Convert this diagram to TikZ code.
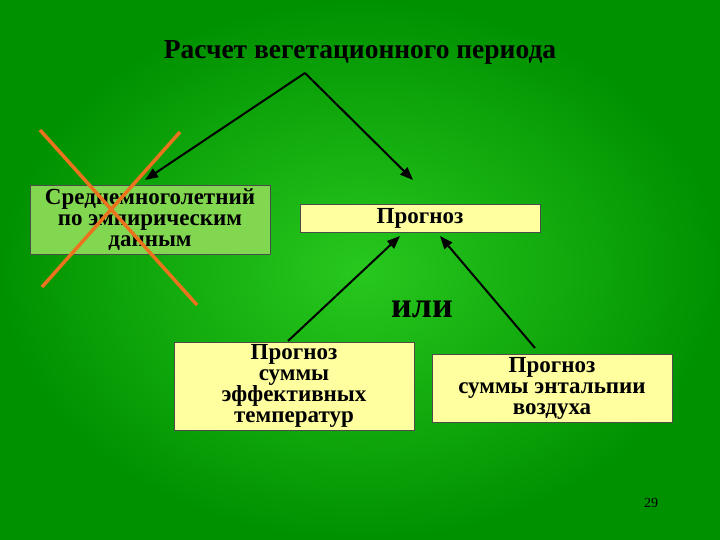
\documentclass[tikz,border=0pt]{standalone}
\usepackage{fontspec}
\setmainfont{Liberation Serif}
\usetikzlibrary{arrows.meta}
\definecolor{bgin}{RGB}{40,200,30}
\definecolor{bgout}{RGB}{0,145,0}
\definecolor{boxy}{RGB}{255,255,160}
\definecolor{boxg}{RGB}{130,215,80}
\definecolor{crossc}{RGB}{235,115,30}
\tikzset{
  box/.style={draw=black!70, line width=0.8pt, minimum width=240pt, align=center, inner sep=1pt,
    font=\bfseries\fontsize{23}{21}\selectfont},
  conn/.style={line width=2pt, -{Triangle[length=13pt,width=10pt]}},
  crossl/.style={draw=crossc, line width=3.5pt}
}
\begin{document}
\begin{tikzpicture}[x=1pt,y=-1pt]
\useasboundingbox (0,0) rectangle (720,540);
\shade[inner color=bgin, outer color=bgout] (0,0) rectangle (720,540);
\node[font=\bfseries\fontsize{27.5}{27.5}\selectfont] (title) at (360,52) {Расчет вегетационного периода};
\coordinate (apex) at (305,73);
\node[box, fill=boxg, minimum height=69pt] (avg) at (150,219.5) {Среднемноголетний\\по эмпирическим\\данным};
\node[box, fill=boxy, minimum height=28pt] (prog) at (420,218) {Прогноз};
\node[box, fill=boxy, minimum height=88pt] (eff) at (294,386) {Прогноз\\суммы\\эффективных\\температур};
\node[box, fill=boxy, minimum height=68pt] (ent) at (552,388) {Прогноз\\суммы энтальпии\\воздуха};
\node[font=\bfseries\fontsize{36}{36}\selectfont] (ili) at (422,309) {или};
\node[font=\fontsize{14}{14}\selectfont] (num) at (651,503) {29};
\coordinate (a1) at (145,180);
\coordinate (a2) at (413,180);
\draw[conn] (apex) -- (a1);
\draw[conn] (apex) -- (a2);
\coordinate (e1) at (288,341);
\coordinate (e2) at (400,236);
\coordinate (n1) at (535,348);
\coordinate (n2) at (440,236);
\draw[conn] (e1) -- (e2);
\draw[conn] (n1) -- (n2);
\coordinate (c1) at (40,130);
\coordinate (c2) at (197,305);
\coordinate (c3) at (180,132);
\coordinate (c4) at (42,287);
\draw[crossl] (c1) -- (c2);
\draw[crossl] (c3) -- (c4);
\end{tikzpicture}
\end{document}
